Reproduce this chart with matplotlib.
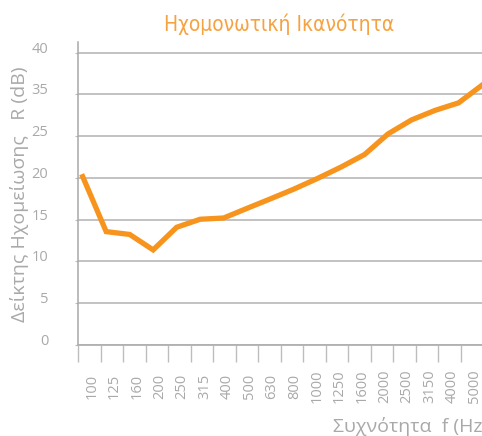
import numpy as np
import matplotlib
matplotlib.use('Agg')
import matplotlib.pyplot as plt

# frequency bands (Hz) and sound reduction index
freqs = ['100', '125', '160', '200', '250', '315', '400', '500', '630',
         '800', '1000', '1250', '1600', '2000', '2500', '3150', '4000', '5000']
r_values = [20.15, 13.57, 13.23, 11.38, 14.09, 15.05, 15.2, 16.36, 17.5,
            18.67, 19.94, 21.3, 22.8, 25.27, 26.94, 28.08, 28.98, 31.1]
# y gridlines and the labels printed next to them (the original skips "30")
y_grid = [0, 5, 10, 15, 20, 25, 30, 35]
y_labels = ['0', '5', '10', '15', '20', '25', '35', '40']

orange = '#f7941d'
grey_txt = '#a9a9a9'
grey_line = '#bdbdbd'

fig = plt.figure(figsize=(4.82, 4.36), dpi=100)
W, H = 482, 436
left, right, top, bottom = 78, 483, 41.7, 345
ax = fig.add_axes([left / W, 1 - bottom / H, (right - left) / W, (bottom - top) / H])

x = np.arange(len(freqs))
ax.plot(x, r_values, color=orange, linewidth=3.8, solid_joinstyle='miter', zorder=3)

lo, hi = -0.2, len(freqs) - 1 + 0.04
ax.set_xlim(lo, hi)
ax.set_ylim(0, 36.3)

# y axis
ax.set_yticks(y_grid)
ax.set_yticklabels(y_labels)
ax.yaxis.grid(True, color=grey_line, linewidth=1.3)
ax.set_axisbelow(True)
ax.tick_params(axis='y', length=2.5, color=grey_line, pad=19,
               labelcolor=grey_txt, labelsize=10.5)
for lab in ax.get_yticklabels():
    lab.set_va('baseline')
    lab.set_family('Open Sans')

# x axis: tick marks between bands, labels in the middle
edges = np.linspace(lo, hi, len(freqs) + 1)
ax.set_xticks(edges)
ax.set_xticklabels([])
ax.tick_params(axis='x', which='major', length=12, width=1.0, color=grey_line)
mids = (edges[:-1] + edges[1:]) / 2 + 0.12
ax.set_xticks(mids, minor=True)
ax.set_xticklabels(freqs, minor=True, rotation=90, va='center',
                   color=grey_txt, fontsize=10.5, family='Open Sans')
ax.tick_params(axis='x', which='minor', length=0, pad=30)

for side in ['top', 'right']:
    ax.spines[side].set_visible(False)
ax.spines['left'].set_color('#a8a8a8')
ax.spines['left'].set_linewidth(1.1)
ax.spines['bottom'].set_color('#b0b0b0')
ax.spines['bottom'].set_linewidth(1.3)

fig.text(279 / W, 1 - 24 / H, 'Ηχομονωτική Ικανότητα', color='#f7a240',
         fontsize=15, ha='center', va='center', family='DejaVu Sans',
         stretch='condensed')
fig.text(20 / W, 1 - 194 / H, 'Δείκτης Ηχομείωσης   R (dB)', rotation=90,
         color=grey_txt, fontsize=14, ha='center', va='center', family='Open Sans')
fig.text(333 / W, 1 - 426 / H, 'Συχνότητα  f (Hz)', color=grey_txt,
         fontsize=14, ha='left', va='center', family='Open Sans')

fig.savefig('out.png', dpi=100)
